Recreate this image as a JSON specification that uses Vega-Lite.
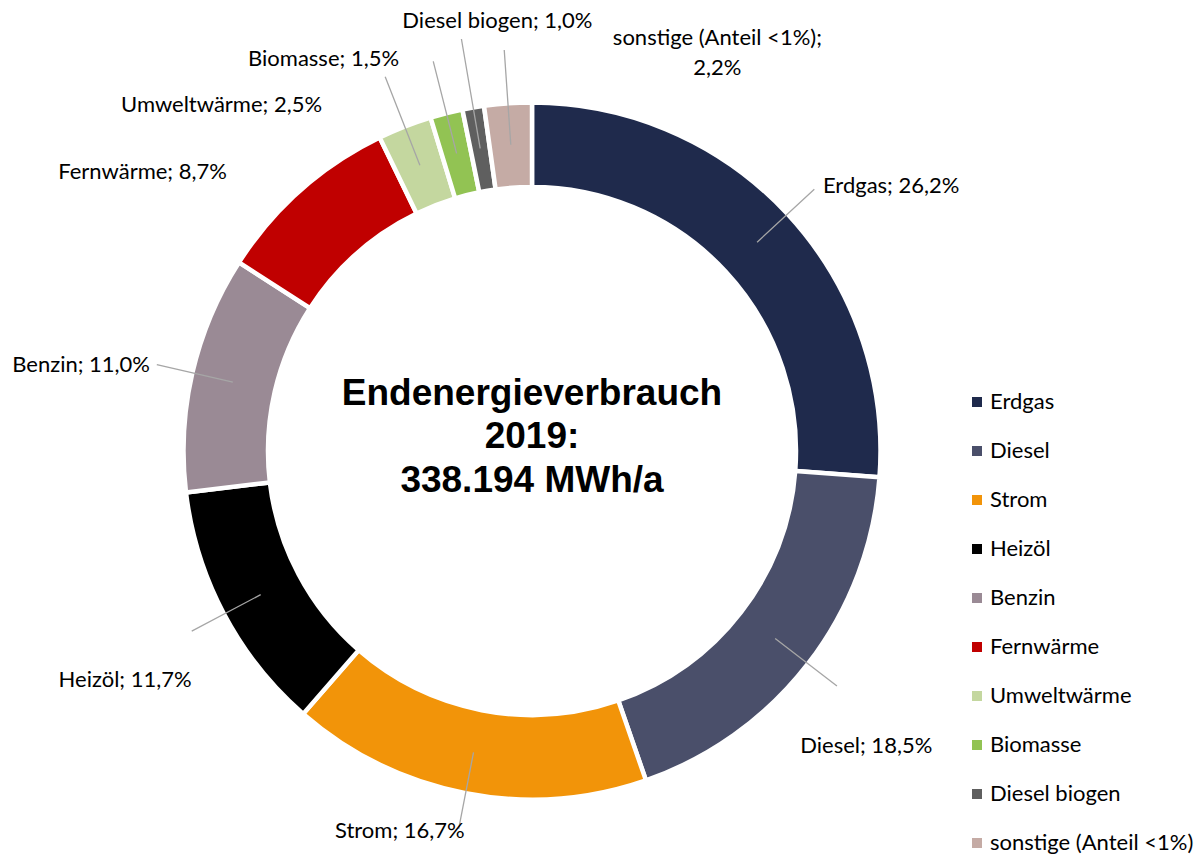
{
  "$schema": "https://vega.github.io/schema/vega-lite/v6.json",
  "autosize": {"type": "none"},
  "padding": {"left": 0, "top": 45, "right": 133, "bottom": 0},
  "width": 1064,
  "height": 812,
  "background": "white",
  "config": {"view": {"stroke": null}, "text": {"font": "Lato"}},
  "data": {
    "values": [
      {"rank": 1, "name": "Erdgas", "value": 26.2, "label": "Erdgas; 26,2%"},
      {"rank": 2, "name": "Diesel", "value": 18.5, "label": "Diesel; 18,5%"},
      {"rank": 3, "name": "Strom", "value": 16.7, "label": "Strom; 16,7%"},
      {"rank": 4, "name": "Heizöl", "value": 11.7, "label": "Heizöl; 11,7%"},
      {"rank": 5, "name": "Benzin", "value": 11.0, "label": "Benzin; 11,0%"},
      {"rank": 6, "name": "Fernwärme", "value": 8.7, "label": "Fernwärme; 8,7%"},
      {"rank": 7, "name": "Umweltwärme", "value": 2.5, "label": "Umweltwärme; 2,5%"},
      {"rank": 8, "name": "Biomasse", "value": 1.5, "label": "Biomasse; 1,5%"},
      {"rank": 9, "name": "Diesel biogen", "value": 1.0, "label": "Diesel biogen; 1,0%"},
      {"rank": 10, "name": "sonstige (Anteil <1%)", "value": 2.2, "label": "sonstige (Anteil <1%);\n2,2%"}
    ]
  },
  "transform": [
    {"window": [{"op": "sum", "field": "value", "as": "cum"}], "sort": [{"field": "rank", "order": "ascending"}], "frame": [null, 0]},
    {"calculate": "datum.cum - datum.value / 2", "as": "mid"}
  ],
  "layer": [
    {
      "mark": {"type": "arc", "radius": 348.5, "radius2": 264, "stroke": "white", "strokeWidth": 4.5},
      "encoding": {
        "theta": {"field": "value", "type": "quantitative", "stack": true, "scale": {"domain": [0, 100], "range": [0, 6.283185307]}},
        "order": {"field": "rank", "type": "quantitative"},
        "color": {
          "field": "name",
          "type": "nominal",
          "sort": null,
          "scale": {
            "domain": ["Erdgas", "Diesel", "Strom", "Heizöl", "Benzin", "Fernwärme", "Umweltwärme", "Biomasse", "Diesel biogen", "sonstige (Anteil <1%)"],
            "range": ["#1F2A4C", "#4A4F6A", "#F29409", "#000000", "#9A8A95", "#C00000", "#C4D79F", "#92C353", "#5F5F5F", "#C5ABA5"]
          },
          "legend": {
            "title": null,
            "orient": "none",
            "legendX": 966,
            "legendY": 346,
            "padding": 0,
            "symbolType": "square",
            "symbolSize": 100,
            "symbolStrokeWidth": 0,
            "labelFont": "Lato",
            "labelFontSize": 22,
            "labelColor": "#000000",
            "labelOffset": 2,
            "rowPadding": 27,
            "labelLimit": 400
          }
        }
      }
    },
    {
      "transform": [{"filter": "indexof(['Erdgas','Diesel','Strom','Heizöl','Benzin'], datum.name) >= 0"}],
      "mark": {"type": "arc", "radius": 385, "radius2": 307, "stroke": "#A6A6A6", "strokeWidth": 1.3, "fill": "transparent"},
      "encoding": {
        "theta": {"field": "mid", "type": "quantitative", "stack": false},
        "theta2": {"field": "mid"}
      }
    },
    {
      "transform": [{"filter": "indexof(['Umweltwärme','Biomasse','sonstige (Anteil <1%)'], datum.name) >= 0"}],
      "mark": {"type": "arc", "radius": 402, "radius2": 307, "stroke": "#A6A6A6", "strokeWidth": 1.3, "fill": "transparent"},
      "encoding": {
        "theta": {"field": "mid", "type": "quantitative", "stack": false},
        "theta2": {"field": "mid"}
      }
    },
    {
      "transform": [{"filter": "datum.name == 'Diesel biogen'"}],
      "mark": {"type": "arc", "radius": 418, "radius2": 307, "stroke": "#A6A6A6", "strokeWidth": 1.3, "fill": "transparent"},
      "encoding": {
        "theta": {"field": "mid", "type": "quantitative", "stack": false},
        "theta2": {"field": "mid"}
      }
    },
    {
      "transform": [{"filter": "datum.name == 'Erdgas'"}],
      "mark": {"type": "text", "radius": 394, "align": "left", "baseline": "middle", "dx": 2, "dy": 3, "fontSize": 22, "color": "#000000"},
      "encoding": {"theta": {"field": "mid", "type": "quantitative", "stack": false}, "text": {"field": "label"}}
    },
    {
      "transform": [{"filter": "datum.name == 'Diesel'"}],
      "mark": {"type": "text", "radius": 398, "align": "left", "baseline": "middle", "dx": -47, "dy": 52, "fontSize": 22, "color": "#000000"},
      "encoding": {"theta": {"field": "mid", "type": "quantitative", "stack": false}, "text": {"field": "label"}}
    },
    {
      "transform": [{"filter": "datum.name == 'Strom'"}],
      "mark": {"type": "text", "radius": 400, "align": "center", "baseline": "middle", "dx": -56, "dy": -13, "fontSize": 22, "color": "#000000"},
      "encoding": {"theta": {"field": "mid", "type": "quantitative", "stack": false}, "text": {"field": "label"}}
    },
    {
      "transform": [{"filter": "datum.name == 'Heizöl'"}],
      "mark": {"type": "text", "radius": 410, "align": "right", "baseline": "middle", "dx": 22, "dy": 37, "fontSize": 22, "color": "#000000"},
      "encoding": {"theta": {"field": "mid", "type": "quantitative", "stack": false}, "text": {"field": "label"}}
    },
    {
      "transform": [{"filter": "datum.name == 'Benzin'"}],
      "mark": {"type": "text", "radius": 392, "align": "right", "baseline": "middle", "dx": 0, "dy": 2, "fontSize": 22, "color": "#000000"},
      "encoding": {"theta": {"field": "mid", "type": "quantitative", "stack": false}, "text": {"field": "label"}}
    },
    {
      "transform": [{"filter": "datum.name == 'Fernwärme'"}],
      "mark": {"type": "text", "radius": 413, "align": "right", "baseline": "middle", "dx": -31, "dy": 30, "fontSize": 22, "color": "#000000"},
      "encoding": {"theta": {"field": "mid", "type": "quantitative", "stack": false}, "text": {"field": "label"}}
    },
    {
      "transform": [{"filter": "datum.name == 'Umweltwärme'"}],
      "mark": {"type": "text", "radius": 405, "align": "right", "baseline": "middle", "dx": -62, "dy": 31, "fontSize": 22, "color": "#000000"},
      "encoding": {"theta": {"field": "mid", "type": "quantitative", "stack": false}, "text": {"field": "label"}}
    },
    {
      "transform": [{"filter": "datum.name == 'Biomasse'"}],
      "mark": {"type": "text", "radius": 415, "align": "right", "baseline": "middle", "dx": -31, "dy": 10, "fontSize": 22, "color": "#000000"},
      "encoding": {"theta": {"field": "mid", "type": "quantitative", "stack": false}, "text": {"field": "label"}}
    },
    {
      "transform": [{"filter": "datum.name == 'Diesel biogen'"}],
      "mark": {"type": "text", "radius": 430, "align": "center", "baseline": "middle", "dx": 38, "dy": -6, "fontSize": 22, "color": "#000000"},
      "encoding": {"theta": {"field": "mid", "type": "quantitative", "stack": false}, "text": {"field": "label"}}
    },
    {
      "transform": [{"filter": "datum.name == 'sonstige (Anteil <1%)'"}],
      "mark": {"type": "text", "radius": 400, "align": "center", "baseline": "middle", "dx": 213, "dy": -14, "fontSize": 22, "lineBreak": "\n", "lineHeight": 30, "color": "#000000"},
      "encoding": {"theta": {"field": "mid", "type": "quantitative", "stack": false}, "text": {"field": "label"}}
    },
    {
      "transform": [{"filter": "datum.rank == 1"}],
      "mark": {"type": "text", "font": "Liberation Sans", "fontWeight": "bold", "fontSize": 37, "align": "center", "baseline": "middle", "lineHeight": 43.5, "dy": -57.5, "color": "#000000"},
      "encoding": {"text": {"value": ["Endenergieverbrauch", "2019:", "338.194 MWh/a"]}}
    }
  ]
}
